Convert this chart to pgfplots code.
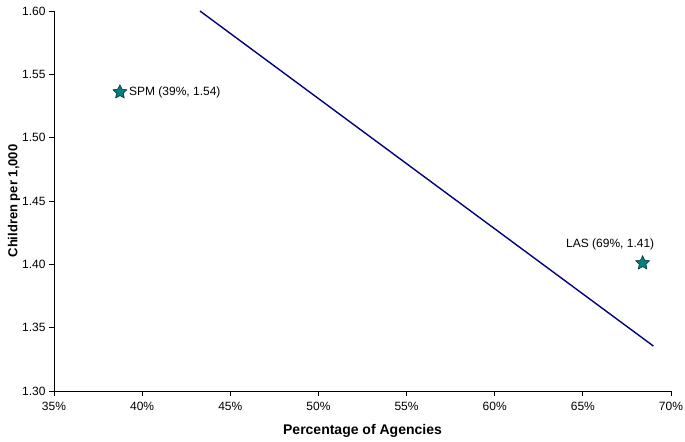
\documentclass[border=0pt]{standalone}
\usepackage{fontspec}
\setmainfont{Liberation Sans}
\usepackage{pgfplots}
\pgfplotsset{compat=1.18}
\definecolor{navyline}{RGB}{0,0,128}
\definecolor{tealstar}{RGB}{0,128,128}
\pgfdeclareplotmark{fstar}{%
  \pgfpathmoveto{\pgfpointpolar{90}{1.6\pgfplotmarksize}}%
  \pgfpathlineto{\pgfpointpolar{126}{0.78\pgfplotmarksize}}%
  \pgfpathlineto{\pgfpointpolar{162}{1.6\pgfplotmarksize}}%
  \pgfpathlineto{\pgfpointpolar{198}{0.78\pgfplotmarksize}}%
  \pgfpathlineto{\pgfpointpolar{234}{1.6\pgfplotmarksize}}%
  \pgfpathlineto{\pgfpointpolar{270}{0.78\pgfplotmarksize}}%
  \pgfpathlineto{\pgfpointpolar{306}{1.6\pgfplotmarksize}}%
  \pgfpathlineto{\pgfpointpolar{342}{0.78\pgfplotmarksize}}%
  \pgfpathlineto{\pgfpointpolar{18}{1.6\pgfplotmarksize}}%
  \pgfpathlineto{\pgfpointpolar{54}{0.78\pgfplotmarksize}}%
  \pgfpathclose
  \pgfusepathqfillstroke}
\begin{document}
\begin{tikzpicture}
\begin{axis}[
  scale only axis,
  width=617bp, height=380bp,
  xmin=35, xmax=70, ymin=1.30, ymax=1.60,
  axis x line*=bottom, axis y line*=left,
  axis line style={black, line width=0.8pt},
  xtick={35,40,...,70},
  xticklabels={35\%,40\%,45\%,50\%,55\%,60\%,65\%,70\%},
  ytick={1.30,1.35,...,1.60},
  yticklabel style={/pgf/number format/.cd, fixed, fixed zerofill, precision=2, assume math mode=true},
  xticklabel style={yshift=-3bp},
  tick align=outside,
  major tick length=5bp,
  tick style={black, line width=0.8pt},
  tick label style={font=\fontsize{12bp}{14bp}\selectfont},
  xlabel={\textbf{Percentage of Agencies}},
  ylabel={\textbf{Children per 1,000}},
  xlabel style={font=\fontsize{14bp}{16bp}\selectfont, at={(0.5,0)}, anchor=center, yshift=-40bp},
  ylabel style={font=\fontsize{13bp}{15bp}\selectfont, at={(0,0.5)}, anchor=center, yshift=40bp},
  clip=false,
]
\coordinate (O) at (rel axis cs:0,0);
\addplot[navyline, line width=1.4pt] coordinates {(43.28,1.60) (69.0,1.3355)};
\addplot[only marks, mark=fstar, mark size=4.6bp,
  mark options={fill=tealstar, draw=black!70!tealstar, line width=0.5pt}]
  coordinates {(38.74,1.536) (68.39,1.401)};
\node[font=\fontsize{12bp}{14bp}\selectfont, anchor=west, inner sep=0pt] at (axis cs:39.25,1.536) {SPM (39\%, 1.54)};
\node[font=\fontsize{12bp}{14bp}\selectfont, anchor=base, inner sep=0pt] at (axis cs:66.55,1.4135) {LAS (69\%, 1.41)};
\end{axis}
\pgfresetboundingbox
\path (O) ++(-54bp,-51bp) rectangle ++(685bp,442bp);
\end{tikzpicture}
\end{document}
